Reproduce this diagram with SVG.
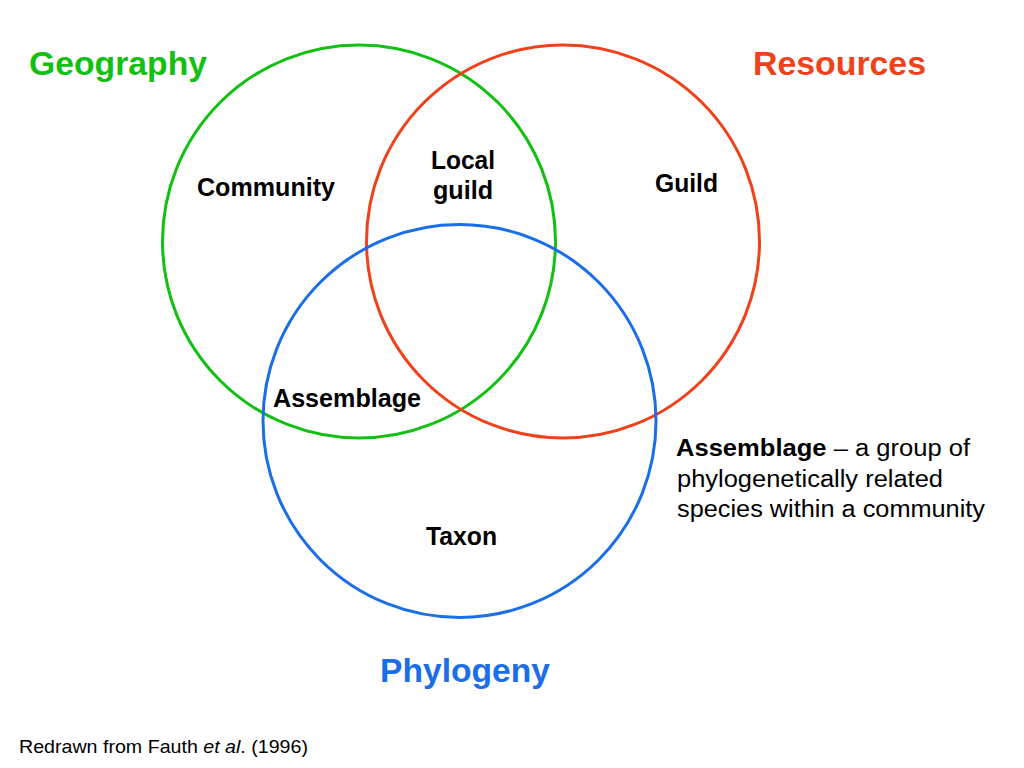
<svg xmlns="http://www.w3.org/2000/svg" width="1024" height="768" viewBox="0 0 1024 768">
<style>
.c{fill:none;stroke-width:3}
.t{font-family:"Liberation Sans",Arial,sans-serif;font-weight:bold;fill:#000}
.h{font-family:"Liberation Sans",Arial,sans-serif;font-weight:bold;font-size:33px}
.n{font-family:"Liberation Sans",Arial,sans-serif;fill:#000}
</style>
<rect width="1024" height="768" fill="#fff"/>
<g id="circle-geography"><circle class="c" cx="359" cy="241.5" r="196.5" stroke="#12c012"/></g>
<g id="circle-resources"><circle class="c" cx="563" cy="241.5" r="196.5" stroke="#f0421a"/></g>
<g id="circle-phylogeny"><circle class="c" cx="459.5" cy="421" r="196.5" stroke="#1a6ee8"/></g>
<g id="label-geography"><text class="h" x="29" y="75" fill="#12c012" textLength="178" lengthAdjust="spacingAndGlyphs">Geography</text></g>
<g id="label-resources"><text class="h" x="753" y="75" fill="#f0421a" textLength="173" lengthAdjust="spacingAndGlyphs">Resources</text></g>
<g id="label-phylogeny"><text class="h" x="380" y="682" fill="#1a6ee8" textLength="170" lengthAdjust="spacingAndGlyphs">Phylogeny</text></g>
<g id="community"><text class="t" x="197" y="196" font-size="25" textLength="138" lengthAdjust="spacingAndGlyphs">Community</text></g>
<g id="local-guild"><text class="t" x="431" y="169" font-size="25" textLength="64" lengthAdjust="spacingAndGlyphs">Local</text><text class="t" x="433" y="199" font-size="25" textLength="60" lengthAdjust="spacingAndGlyphs">guild</text></g>
<g id="guild"><text class="t" x="655" y="192" font-size="25" textLength="63" lengthAdjust="spacingAndGlyphs">Guild</text></g>
<g id="assemblage"><text class="t" x="273" y="407" font-size="25" textLength="148" lengthAdjust="spacingAndGlyphs">Assemblage</text></g>
<g id="taxon"><text class="t" x="426" y="545" font-size="25" textLength="71" lengthAdjust="spacingAndGlyphs">Taxon</text></g>
<g id="definition">
<text class="n" x="676" y="456" font-size="23" textLength="294" lengthAdjust="spacingAndGlyphs"><tspan font-weight="bold">Assemblage</tspan> – a group of</text>
<text class="n" x="677" y="487" font-size="23" textLength="266" lengthAdjust="spacingAndGlyphs">phylogenetically related</text>
<text class="n" x="677" y="517" font-size="23" textLength="308" lengthAdjust="spacingAndGlyphs">species within a community</text>
</g>
<g id="footer"><text class="n" x="19" y="753" font-size="18.5" textLength="289" lengthAdjust="spacingAndGlyphs">Redrawn from Fauth <tspan font-style="italic">et al</tspan>. (1996)</text></g>
</svg>
